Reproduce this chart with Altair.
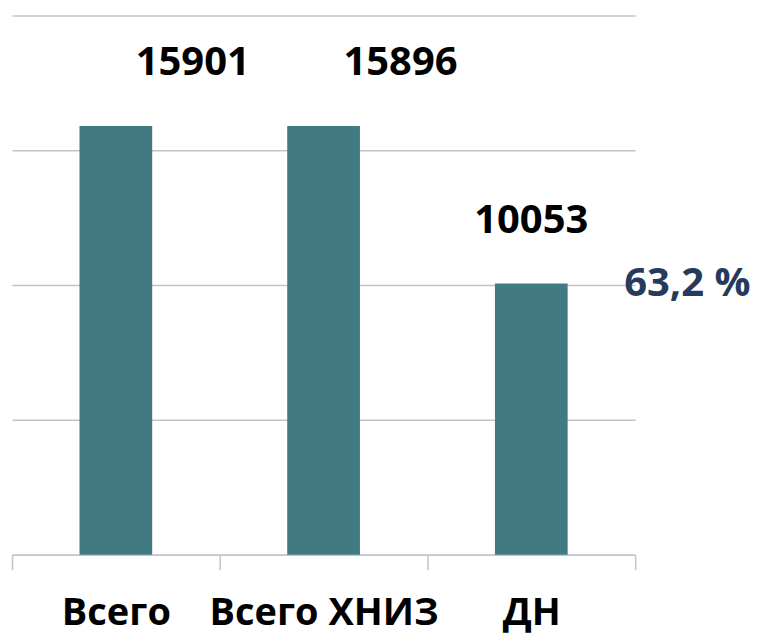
import altair as alt
import pandas as pd

categories = ["Всего", "Всего ХНИЗ", "ДН"]
values = [15901, 15896, 10053]
share_label = "63,2 %"

df = pd.DataFrame({"cat": categories, "value": values})

FONT = "Open Sans"
BAR = "#417A82"
GRID = "#C4C4C4"

x = alt.X("cat:N", sort=categories, title=None,
          scale=alt.Scale(paddingInner=0, paddingOuter=0),
          axis=alt.Axis(labelAngle=0, labelFont=FONT, labelFontSize=38,
                        labelFontWeight="bold", labelColor="#000000",
                        labelLimit=0,
                        tickBand="extent", tickSize=15, tickColor=GRID,
                        tickWidth=1.5, domainColor=GRID, domainWidth=1.5,
                        labelPadding=25, grid=False))
y = alt.Y("value:Q", title=None,
          scale=alt.Scale(domain=[0, 20000], nice=False),
          axis=alt.Axis(values=[0, 5000, 10000, 15000, 20000], labels=False,
                        ticks=False, domain=False, grid=True,
                        gridColor=GRID, gridWidth=1.5))

base = alt.Chart(df)

bars = base.mark_bar(color=BAR, width=alt.RelativeBandSize(0.35)).encode(x=x, y=y)

lab_shift = base.transform_filter("datum.cat != 'ДН'").mark_text(
    font=FONT, fontSize=40, fontWeight="bold", color="#000000",
    baseline="alphabetic", dy=-51, dx=77
).encode(x=alt.X("cat:N", sort=categories), y="value:Q", text="value:Q")

lab_center = base.transform_filter("datum.cat == 'ДН'").mark_text(
    font=FONT, fontSize=40, fontWeight="bold", color="#000000",
    baseline="alphabetic", dy=-51
).encode(x=alt.X("cat:N", sort=categories), y="value:Q", text="value:Q")

pct = base.transform_filter("datum.cat == 'ДН'").mark_text(
    font=FONT, fontSize=40, fontWeight="bold", color="#243A5E",
    align="left", baseline="middle", dx=93
).encode(x=alt.X("cat:N", sort=categories), y="value:Q", text=alt.value(share_label))

chart = alt.layer(bars, lab_shift, lab_center, pct).properties(
    width=624, height=540,
    autosize=alt.AutoSizeParams(type="none"),
    padding={"left": 4, "top": 7, "right": 118, "bottom": 81},
).configure_view(stroke=None)

chart.save("out.html", embed_options={"renderer": "svg", "actions": False})
